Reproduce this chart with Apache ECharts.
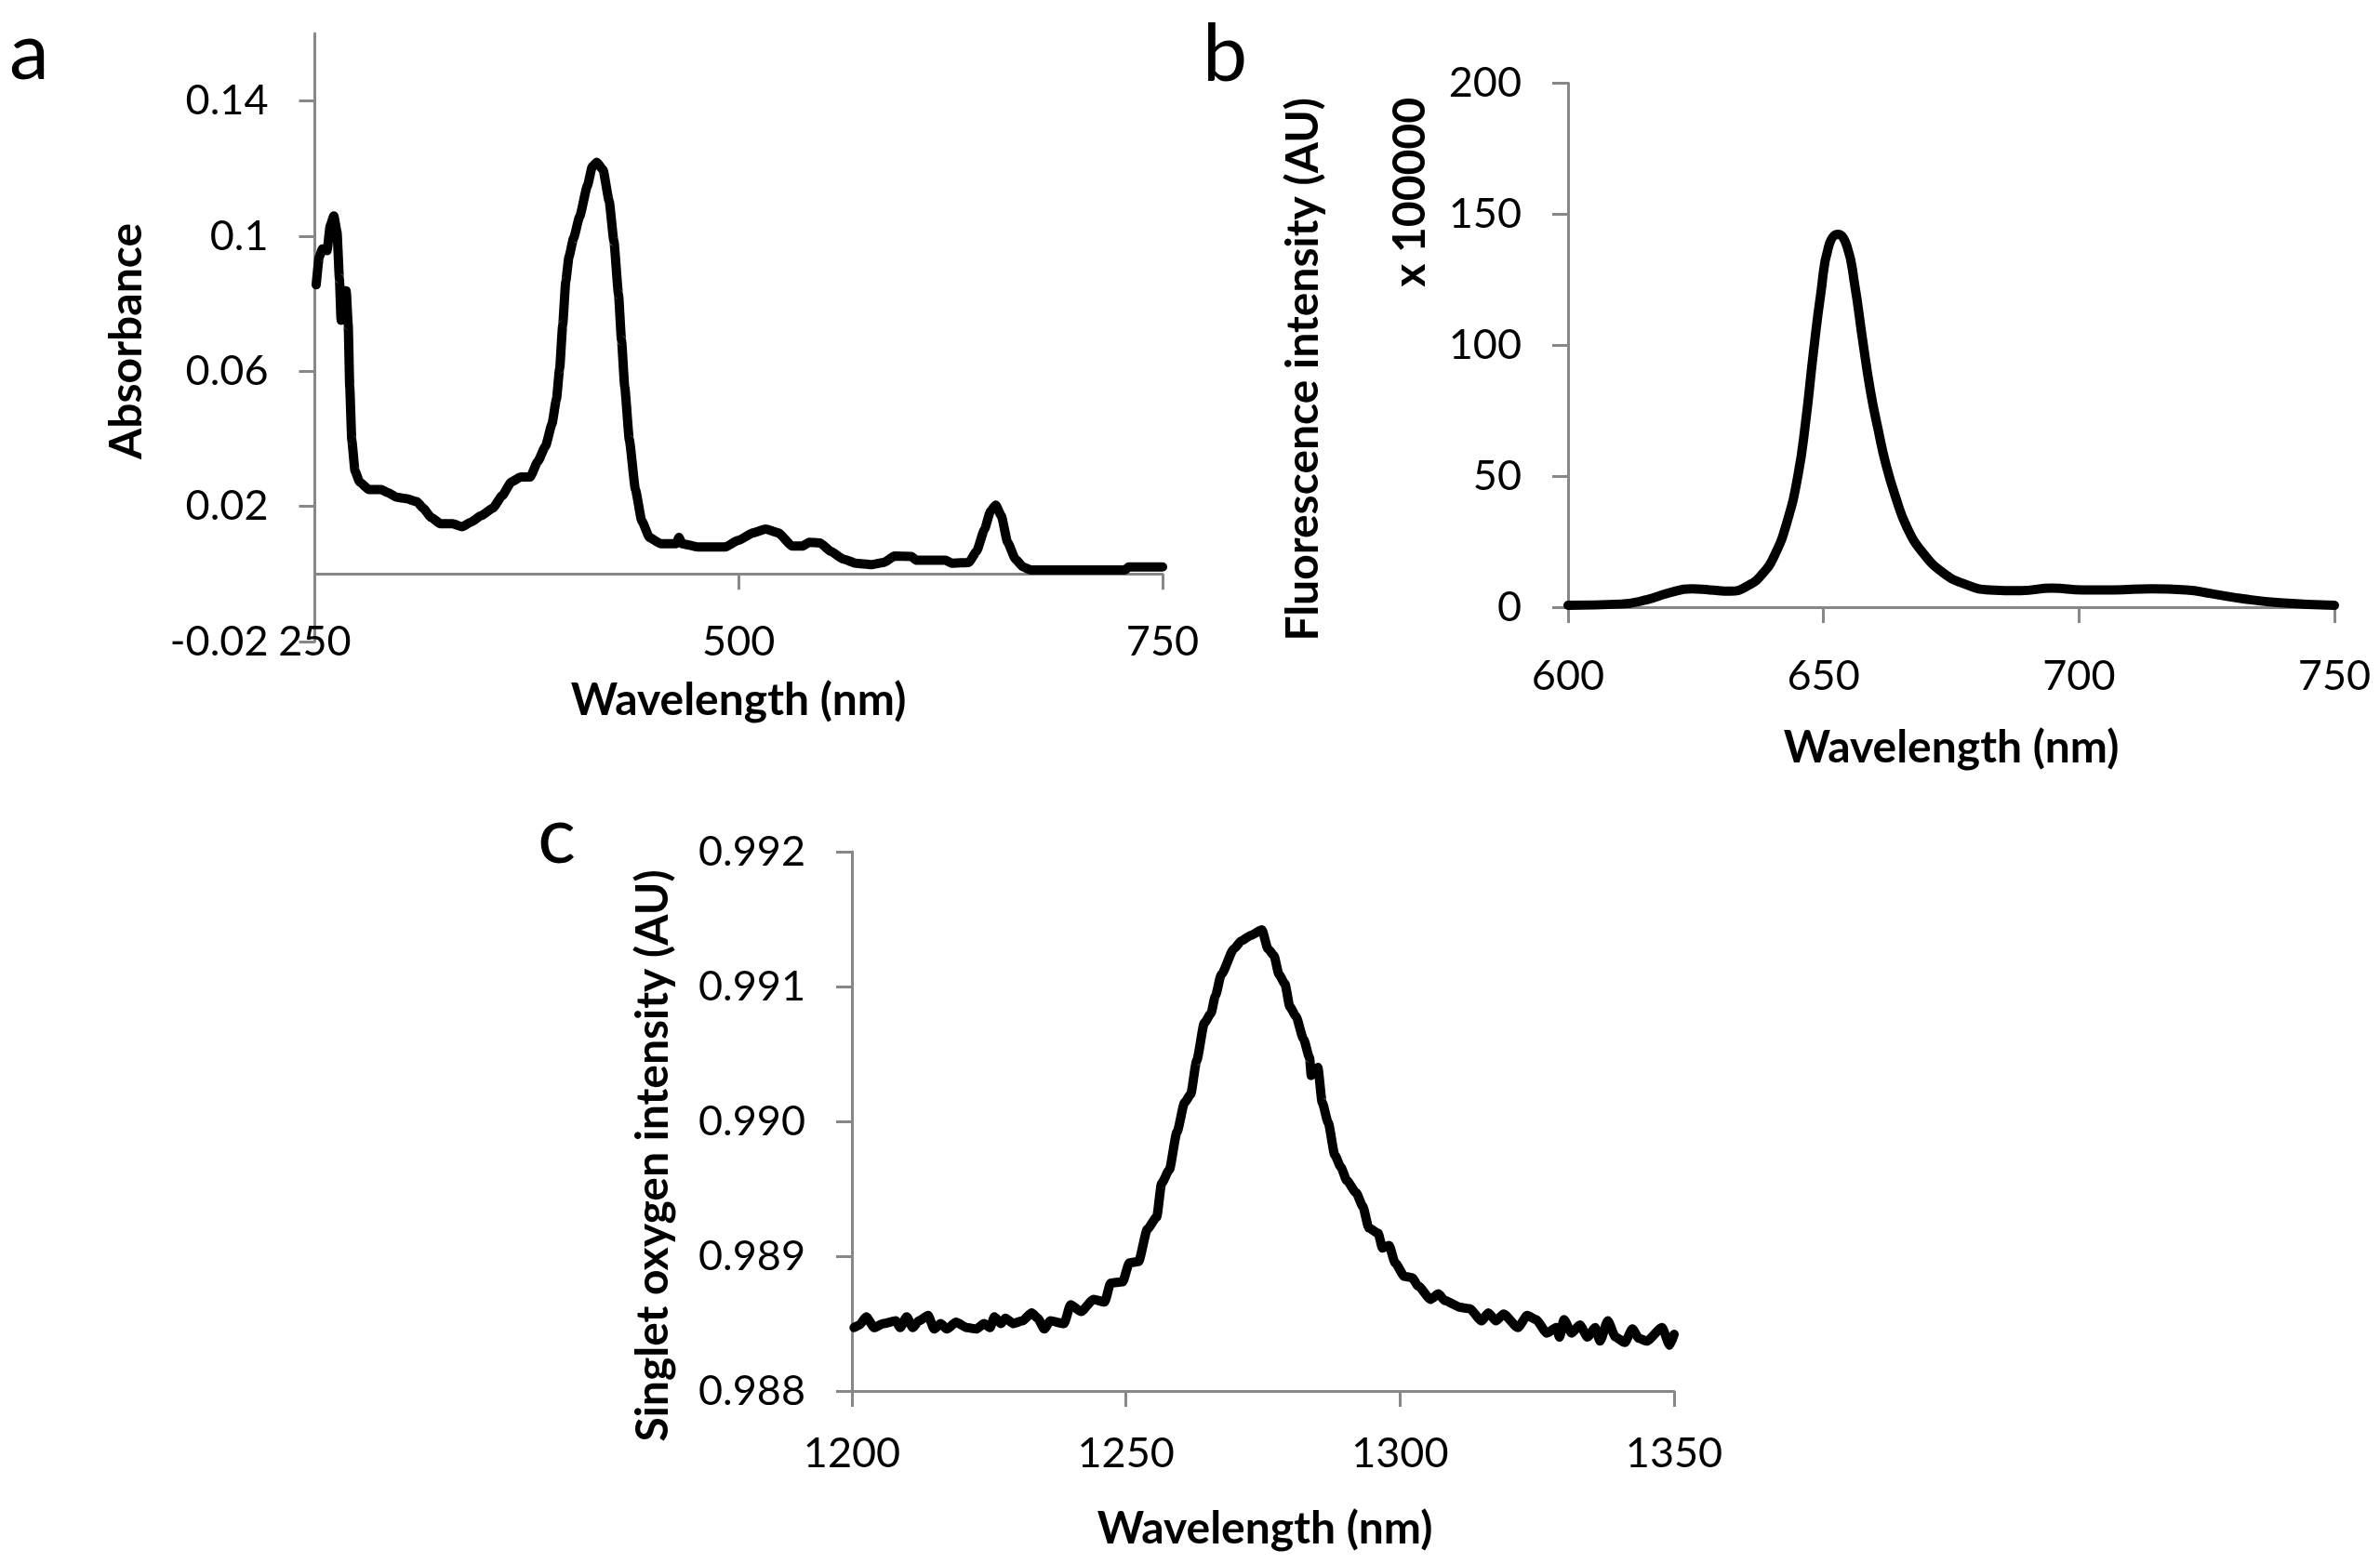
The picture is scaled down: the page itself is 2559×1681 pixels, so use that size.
<!DOCTYPE html>
<html>
<head>
<meta charset="utf-8">
<title>Absorbance, fluorescence and singlet oxygen spectra</title>
<script src="https://cdn.jsdelivr.net/npm/echarts@6/dist/echarts.min.js"></script>
<style>
  html, body { margin: 0; padding: 0; background: #fff; }
  #chart { width: 2559px; height: 1681px; }
</style>
</head>
<body>
<div id="chart"></div>
<script>
// (a) absorbance spectrum
const absWavelength = [250.8, 252.6, 254.5, 257.2, 259.1, 261.2, 263.1, 264.5, 265.5, 267.3,
  268.5, 269.7, 270.6, 271.8, 273.7, 276.4, 281.9, 289.2, 292.9, 298.4,
  303.9, 310.2, 313.9, 318.5, 324, 331.3, 336.8, 342.3, 347.8, 355,
  360.5, 366, 371.5, 377, 381.5, 386.1, 389.8, 392.5, 394.4, 396.2,
  398, 399.9, 402.6, 406.2, 410.8, 413.6, 416.3, 420, 423.6, 426.4,
  429.1, 430.9, 432.8, 435.5, 439.1, 442.8, 447.4, 453.8, 463, 464.8,
  466.6, 475.7, 492.2, 499.5, 508.6, 515.9, 523.3, 531.5, 537.9, 541.5,
  548, 554.4, 561.7, 569, 578.1, 585.4, 591.9, 601.9, 604.6, 622,
  625.7, 635.7, 640.3, 644.9, 648.5, 651.6, 654.9, 658.6, 663.2, 667.7,
  672.3, 728, 729.9, 750];
const absValue = [0.0856, 0.0939, 0.0962, 0.0957, 0.1031, 0.1060, 0.1012, 0.0875, 0.0751, 0.0838,
  0.0838, 0.0737, 0.0553, 0.0397, 0.0305, 0.0273, 0.0250, 0.0250, 0.0241, 0.0227,
  0.0223, 0.0214, 0.0195, 0.0168, 0.0149, 0.0149, 0.0140, 0.0154, 0.0172, 0.0195,
  0.0232, 0.0273, 0.0287, 0.0287, 0.0333, 0.0379, 0.0443, 0.0517, 0.0608, 0.0737,
  0.0866, 0.0939, 0.0994, 0.1058, 0.1150, 0.1205, 0.1219, 0.1196, 0.1104, 0.0985,
  0.0829, 0.0691, 0.0553, 0.0397, 0.0250, 0.0158, 0.0108, 0.0090, 0.0090, 0.0108,
  0.0090, 0.0080, 0.0080, 0.0099, 0.0122, 0.0133, 0.0122, 0.0083, 0.0083, 0.0094,
  0.0092, 0.0067, 0.0044, 0.0032, 0.0028, 0.0034, 0.0053, 0.0052, 0.0041, 0.0041,
  0.0032, 0.0034, 0.0067, 0.0131, 0.0186, 0.0204, 0.0172, 0.0094, 0.0044, 0.0021,
  0.0012, 0.0012, 0.0021, 0.0021];
const absTicks = [-0.02, 0.02, 0.06, 0.1, 0.14];

// (b) fluorescence emission, x 100000
const fluWavelength = [600, 610.5, 615.5, 619.6, 624.2, 627.7, 631.8, 635.3, 637.9, 640.4,
  642.9, 645, 646.5, 648, 649.5, 651, 652.8, 654.6, 656.1, 657.6,
  659.2, 660.7, 662.2, 664.2, 666.3, 669.3, 673.4, 677.4, 682.5, 688.6,
  694.7, 700.8, 706.9, 714, 721, 726.1, 732.2, 739.3, 750];
const fluValue = [0.7, 1.2, 2.9, 5.4, 7.0, 6.6, 6.1, 8.3, 12.4, 19.7,
  32.8, 50.3, 70.7, 96.9, 120.2, 137.7, 142.3, 137.7, 123.1, 102.7,
  82.3, 67.7, 54.6, 41.5, 30.6, 21.1, 13.1, 9.0, 6.6, 6.3,
  7.3, 6.6, 6.6, 7.0, 6.6, 5.1, 3.2, 1.7, 0.7];

// (c) singlet oxygen phosphorescence
const soWavelength = [1200.4, 1201.4, 1202.6, 1204.1, 1205.7, 1208, 1208.8, 1210, 1211.1, 1212.2,
  1213.9, 1215, 1216.2, 1217.3, 1219, 1221, 1222.7, 1224.1, 1225.2, 1226,
  1227.2, 1228, 1229.4, 1231.1, 1232.8, 1233.9, 1235.1, 1236.2, 1238.7, 1239.9,
  1241.8, 1244.1, 1246.1, 1247.2, 1249.4, 1250.6, 1252.3, 1253.9, 1255.6, 1256.5,
  1257.9, 1259.3, 1260.7, 1261.8, 1262.9, 1264.3, 1265.5, 1266.3, 1267.4, 1269.7,
  1271.1, 1272.8, 1274.8, 1275.9, 1277, 1277.9, 1279, 1279.9, 1281, 1282.4,
  1283.5, 1283.8, 1285, 1285.8, 1286.9, 1288.1, 1289.2, 1290.3, 1292, 1293.2,
  1294.3, 1296, 1296.8, 1298, 1299.1, 1300.8, 1302.2, 1303.3, 1305.6, 1307,
  1308.2, 1311, 1312.7, 1314.9, 1316.1, 1317.5, 1318.9, 1321.5, 1323.2, 1324.8,
  1326.8, 1328.5, 1329.1, 1329.9, 1331.3, 1332.8, 1334.2, 1335.6, 1336.5, 1337.9,
  1339.3, 1341, 1342.4, 1343.6, 1345, 1347.8, 1349.2, 1350];
const soValue = [0.98847, 0.98849, 0.98855, 0.98847, 0.98850, 0.98852, 0.98847, 0.98855, 0.98847, 0.98852,
  0.98856, 0.98846, 0.98850, 0.98846, 0.98851, 0.98847, 0.98846, 0.98850, 0.98847, 0.98855,
  0.98850, 0.98854, 0.98850, 0.98852, 0.98858, 0.98854, 0.98846, 0.98852, 0.98850, 0.98864,
  0.98859, 0.98868, 0.98866, 0.98880, 0.98881, 0.98895, 0.98896, 0.98920, 0.98929, 0.98954,
  0.98964, 0.98992, 0.99014, 0.99020, 0.99045, 0.99073, 0.99080, 0.99093, 0.99109, 0.99128,
  0.99134, 0.99138, 0.99142, 0.99128, 0.99123, 0.99109, 0.99102, 0.99085, 0.99078, 0.99061,
  0.99047, 0.99034, 0.99040, 0.99014, 0.98999, 0.98975, 0.98966, 0.98956, 0.98947, 0.98937,
  0.98921, 0.98917, 0.98906, 0.98908, 0.98895, 0.98885, 0.98884, 0.98878, 0.98868, 0.98872,
  0.98867, 0.98862, 0.98861, 0.98852, 0.98858, 0.98852, 0.98857, 0.98847, 0.98856, 0.98853,
  0.98843, 0.98847, 0.98840, 0.98853, 0.98843, 0.98849, 0.98840, 0.98847, 0.98837, 0.98852,
  0.98840, 0.98836, 0.98846, 0.98839, 0.98837, 0.98847, 0.98834, 0.98842];

const axisGray = '#878787';
const fontName = 'Lato, "Open Sans", sans-serif';

function pairs(xs, ys) {
  return xs.map((x, i) => [x, ys[i]]);
}

// shared look of every axis: grey line, outside ticks, black labels
function axis(extra, labelMargin) {
  const labelBase = { color: '#000', fontFamily: fontName, fontSize: 45, margin: labelMargin, formatter: v => String(v) };
  const tickBase = { show: true, inside: false, length: 17, lineStyle: { color: axisGray, width: 3 } };
  return Object.assign({
    type: 'value',
    axisLine: { show: true, lineStyle: { color: axisGray, width: 3 } },
    splitLine: { show: false }
  }, extra, {
    axisTick: Object.assign(tickBase, extra.axisTick || {}),
    axisLabel: Object.assign(labelBase, extra.axisLabel || {})
  });
}

function spectrum(gridIndex, data, smooth, monotone) {
  return {
    type: 'line',
    xAxisIndex: gridIndex,
    yAxisIndex: gridIndex,
    data: data,
    showSymbol: false,
    smooth: smooth,
    smoothMonotone: monotone,
    lineStyle: { color: '#000', width: 10, cap: 'round', join: 'round' }
  };
}

function label(text, x, y, opts) {
  opts = opts || {};
  return {
    type: 'text',
    x: x,
    y: y,
    rotation: opts.rotate ? Math.PI / 2 : 0,
    style: {
      text: text,
      fill: '#000',
      font: (opts.bold ? 'bold ' : '') + (opts.size || 48) + 'px ' + fontName,
      align: opts.align || 'center',
      verticalAlign: 'middle',
      textAlign: opts.align || 'center',
      textVerticalAlign: 'middle'
    }
  };
}

const chart = echarts.init(document.getElementById('chart'), null, { renderer: 'canvas' });

chart.setOption({
  animation: false,
  backgroundColor: '#fff',
  grid: [
    { left: 338.5, right: 1309, top: 36, bottom: 991, containLabel: false, outerBoundsMode: 'none' },
    { left: 1686, right: 49, top: 89.5, bottom: 1028, containLabel: false, outerBoundsMode: 'none' },
    { left: 916, right: 759, top: 916, bottom: 185, containLabel: false, outerBoundsMode: 'none' }
  ],
  xAxis: [
    // labels of (a) sit level with the -0.02 tick, below the zero line
    axis({ gridIndex: 0, min: 250, max: 750, interval: 250 }, -22),
    axis({ gridIndex: 1, min: 600, max: 750, interval: 50 }, 52),
    axis({ gridIndex: 2, min: 1200, max: 1350, interval: 50 }, 45)
  ],
  yAxis: [
    axis({
      gridIndex: 0, min: -0.02, max: 0.16,
      axisTick: { customValues: absTicks },
      axisLabel: { customValues: absTicks }
    }, 50),
    axis({ gridIndex: 1, min: 0, max: 200, interval: 50 }, 50),
    axis({
      gridIndex: 2, min: 0.988, max: 0.992, interval: 0.001,
      axisLabel: { formatter: v => v.toFixed(3) }
    }, 50)
  ],
  series: [
    spectrum(0, pairs(absWavelength, absValue), 0.15, 'x'),
    spectrum(1, pairs(fluWavelength, fluValue), 0.5, null),
    spectrum(2, pairs(soWavelength, soValue), 0.2, 'x')
  ],
  graphic: [
    label('a', 10, 57, { size: 86, align: 'left' }),
    label('b', 1293, 59, { size: 86, align: 'left' }),
    label('c', 578, 900, { size: 86, align: 'left' }),
    label('Absorbance', 137, 367, { bold: true, rotate: true }),
    label('Wavelength (nm)', 794, 754, { bold: true }),
    label('Fluorescence intensity (AU)', 1402, 105, { bold: true, rotate: true, align: 'right' }),
    label('x 100000', 1517, 105, { bold: true, rotate: true, align: 'right' }),
    label('Wavelength (nm)', 2098, 805, { bold: true }),
    label('Singlet oxygen intensity (AU)', 703, 1243, { bold: true, rotate: true }),
    label('Wavelength (nm)', 1360, 1645, { bold: true })
  ]
});

window.addEventListener('resize', () => chart.resize());
</script>
</body>
</html>
